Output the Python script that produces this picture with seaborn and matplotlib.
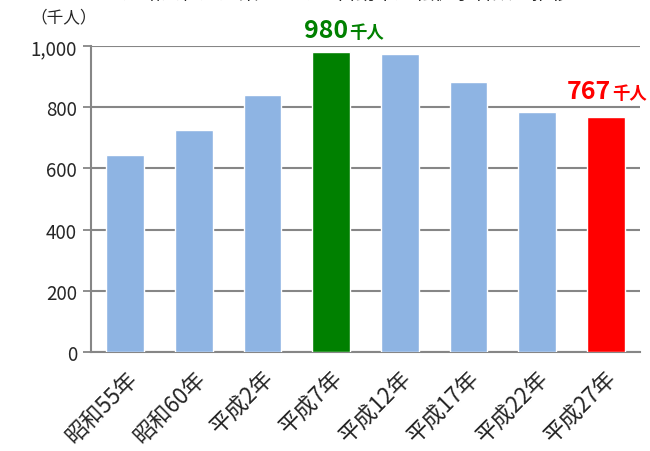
import matplotlib
matplotlib.use("Agg")
import matplotlib.pyplot as plt
import seaborn as sns
import pandas as pd
import numpy as np

# 就業年別の運転者数（千人）
years = ["昭和55年", "昭和60年", "平成2年", "平成7年", "平成12年", "平成17年", "平成22年", "平成27年"]
drivers = [645, 726, 839, 980, 974, 882, 784, 767]
bar_colors = ["#8EB4E3", "#8EB4E3", "#8EB4E3", "#008000", "#8EB4E3", "#8EB4E3", "#8EB4E3", "#FF0000"]
y_ticks = [0, 200, 400, 600, 800, 1000]
y_tick_labels = ["0", "200", "400", "600", "800", "1,000"]
unit_label = "（千人）"
title = "道路貨物運送業における自動車運転従事者数の推移"

sns.set_theme(style="white")
plt.rcParams["font.family"] = ["Noto Sans CJK JP", "DejaVu Sans"]

df = pd.DataFrame({"year": years, "drivers": drivers})

fig = plt.figure(figsize=(6.5, 4.52), dpi=100)
ax = fig.add_axes([91 / 650, 1 - 353 / 452, (640 - 91) / 650, (353 - 47) / 452])

sns.barplot(data=df, x="year", y="drivers", hue="year", palette=bar_colors,
            legend=False, width=0.55, ax=ax, saturation=1, zorder=3)

ax.set_ylim(0, 1000)
ax.set_xlim(-0.5, len(years) - 0.5)
ax.set_yticks(y_ticks)
ax.set_yticklabels(y_tick_labels, fontsize=13.5)
ax.yaxis.grid(True, color="#868686", linewidth=1.5, zorder=0)
ax.set_axisbelow(True)
ax.set_xlabel("")
ax.set_ylabel("")

# category labels at centres, tick marks at category boundaries
ax.set_xticks(range(len(years)))
ax.set_xticklabels(years, rotation=45, ha="right", rotation_mode="anchor", fontsize=16)
ax.tick_params(axis="x", which="major", length=0, pad=10)
ax.set_xticks(np.arange(-0.5, len(years)), minor=True)
ax.tick_params(axis="x", which="minor", length=6, width=1.3, color="#868686", direction="out")
ax.tick_params(axis="y", length=6, width=1.3, color="#868686", direction="out", left=True, pad=4)

for side in ["top", "right"]:
    ax.spines[side].set_visible(False)
for side in ["left", "bottom"]:
    ax.spines[side].set_color("#868686")
    ax.spines[side].set_linewidth(1.5)

# value call-outs for the peak year and the latest year
callouts = [(3, "#008000", 12, 11), (7, "#FF0000", 4, 14)]
for idx, col, dx, dy in callouts:
    v = drivers[idx]
    ax.annotate(f"{v}", xy=(idx, v), xytext=(dx, dy), textcoords="offset points",
                ha="right", va="baseline", color=col, fontsize=18, fontweight="bold",
                annotation_clip=False)
    ax.annotate("千人", xy=(idx, v), xytext=(dx + 1, dy), textcoords="offset points",
                ha="left", va="baseline", color=col, fontsize=12.5, fontweight="bold",
                annotation_clip=False)

fig.text(30 / 650, 1 - 18 / 452, unit_label, fontsize=12, ha="left", va="center")
fig.text(347 / 650, 1 - 4 / 452, title, fontsize=14, ha="center", va="bottom")

fig.savefig("out.png", dpi=100)
